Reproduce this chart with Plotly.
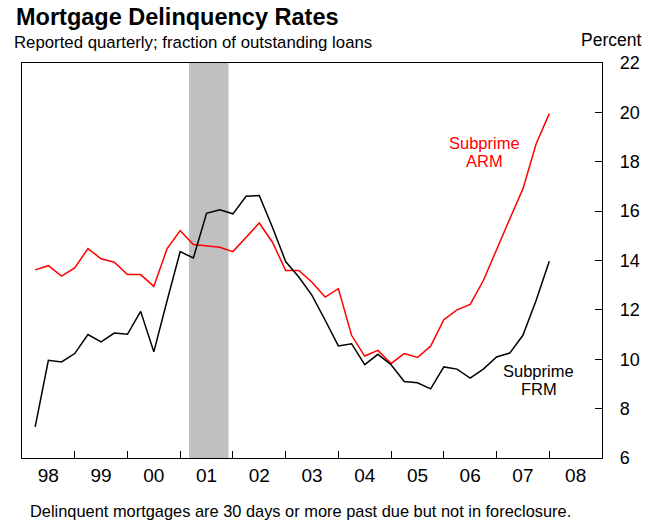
import plotly.graph_objects as go

quarters = [f"{y}Q{q}" for y in range(1998, 2008) for q in range(1, 5)]
subprime_frm = [7.26, 9.96, 9.89, 10.23, 11.0, 10.7, 11.06, 11.01, 11.94, 10.3,
                12.36, 14.36, 14.1, 15.91, 16.05, 15.89, 16.6, 16.63, 15.35, 13.96,
                13.33, 12.59, 11.58, 10.54, 10.63, 9.78, 10.2, 9.78, 9.1, 9.05,
                8.8, 9.69, 9.6, 9.24, 9.6, 10.09, 10.25, 10.97, 12.38, 13.97]
subprime_arm = [13.62, 13.79, 13.37, 13.70, 14.48, 14.07, 13.93, 13.43, 13.43, 12.95,
                14.47, 15.21, 14.65, 14.6, 14.54, 14.36, 14.94, 15.52, 14.74, 13.6,
                13.6, 13.12, 12.52, 12.86, 10.97, 10.13, 10.36, 9.83, 10.23, 10.07,
                10.53, 11.6, 12.0, 12.22, 13.19, 14.4, 15.68, 16.9, 18.72, 19.95]
year_labels = ["98", "99", "00", "01", "02", "03", "04", "05", "06", "07", "08"]
year_starts = list(range(1998, 2009))
recession = (2001 + 2/12, 2001 + 11/12)

# quarter plotted at end of quarter
def qpos(q):
    y, n = q.split("Q")
    return int(y) + int(n) / 4

xq = [qpos(q) for q in quarters]

FONT = "Liberation Sans, Arial, sans-serif"
RED = "#ff0000"
BLK = "#000000"

L, R, T, B = 22, 611, 63, 458
W, H = 652, 521
def py(p):  # pixel y -> paper y
    return (B - p) / (B - T)
def px(p):  # pixel x -> paper x
    return (p - L) / (R - L)

fig = go.Figure()
fig.add_shape(type="rect", xref="x", yref="paper", x0=recession[0], x1=recession[1],
              y0=0, y1=1, fillcolor="#c0c0c0", line_width=0, layer="below")
fig.add_trace(go.Scatter(x=xq, y=subprime_arm, mode="lines",
                         line=dict(color=RED, width=1.5), name="Subprime ARM"))
fig.add_trace(go.Scatter(x=xq, y=subprime_frm, mode="lines",
                         line=dict(color=BLK, width=1.5), name="Subprime FRM"))

fig.update_layout(
    width=W, height=H,
    margin=dict(l=L, r=W - R, t=T, b=H - B, pad=0),
    plot_bgcolor="white", paper_bgcolor="white",
    showlegend=False,
    font=dict(family=FONT, color="black", size=18),
    xaxis=dict(range=[1998, 2009], showline=True, linecolor="black", linewidth=1.3,
               mirror=True, showgrid=False, zeroline=False,
               tickvals=[y + 0.5 for y in year_starts], ticktext=year_labels,
               ticks="", tickfont=dict(size=19), ticklabelstandoff=0,
               minor=dict(ticks="inside", tickvals=year_starts[1:], ticklen=7,
                          tickcolor="black", tickwidth=1.2, showgrid=False)),
    yaxis=dict(range=[6, 22], side="right", showline=True, linecolor="black",
               linewidth=1.3, mirror=True, showgrid=False, zeroline=False,
               tickvals=list(range(6, 23, 2)), ticks="inside", ticklen=7,
               tickcolor="black", tickwidth=1.2, tickfont=dict(size=18),
               ticklabelstandoff=13),
)

ann = [
    dict(text="<b>Mortgage Delinquency Rates</b>", x=px(14), xanchor="left",
         y=py(16.5), font=dict(size=23.5)),
    dict(text="Reported quarterly; fraction of outstanding loans", x=px(12), xanchor="left",
         y=py(42.5), font=dict(size=16.8)),
    dict(text="Percent", x=px(620), xanchor="center", y=py(40), font=dict(size=17.5)),
    dict(text="Delinquent mortgages are 30 days or more past due but not in foreclosure.",
         x=px(28), xanchor="left", y=py(511), font=dict(size=16.4)),
]
for a in ann:
    fig.add_annotation(xref="paper", yref="paper", showarrow=False, yanchor="middle", **a)

labels = [
    ("Subprime", 492, 143, RED), ("ARM", 492, 161, RED),
    ("Subprime", 547, 371, BLK), ("FRM", 547, 389, BLK),
]
for txt, lx, ly, col in labels:
    fig.add_annotation(xref="paper", yref="paper", x=px(lx), y=py(ly), text=txt,
                       showarrow=False, xanchor="center", yanchor="middle",
                       font=dict(color=col, size=16.5))

fig.write_html("out.html", config={"displayModeBar": False},
               post_script="document.body.style.margin='0px';")
